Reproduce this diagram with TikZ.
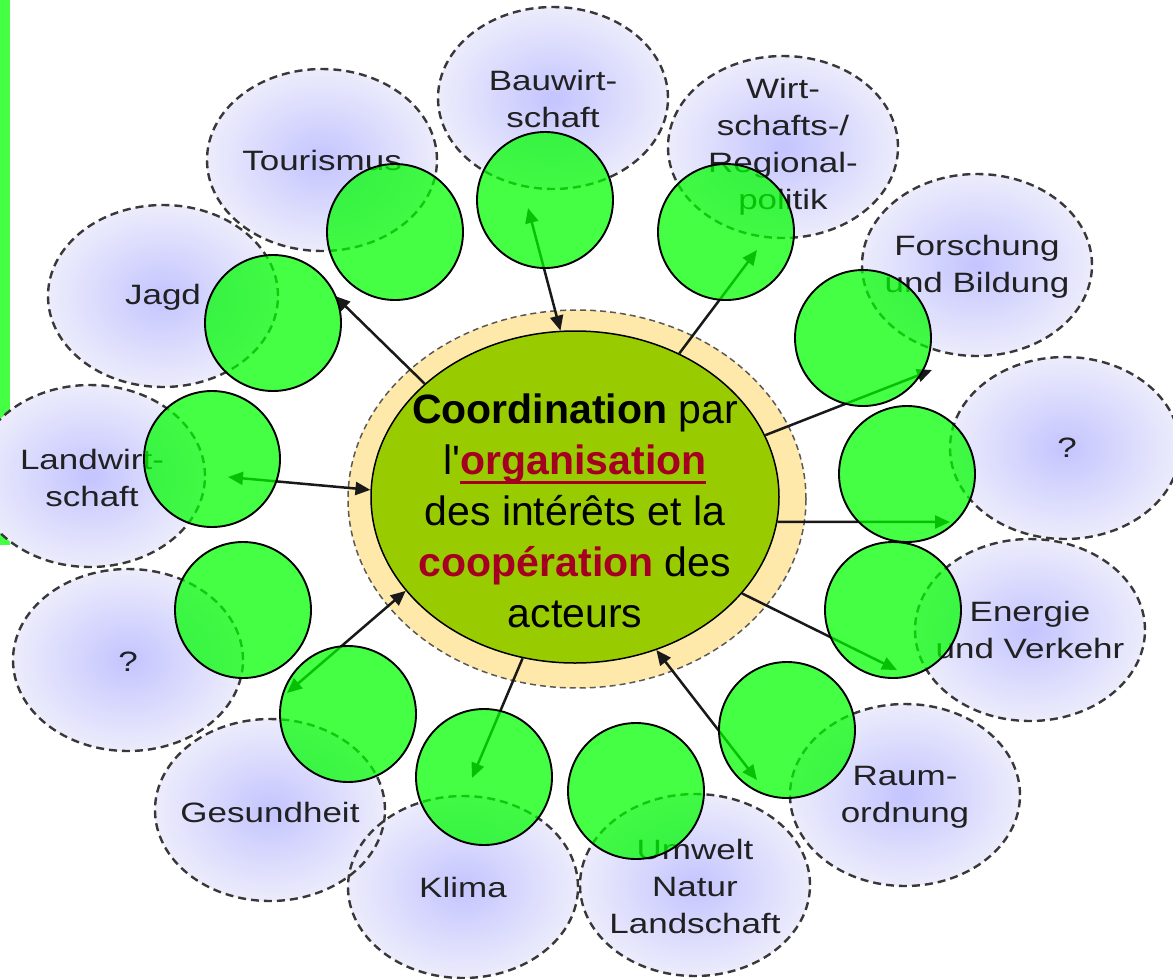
\documentclass[tikz,border=0pt]{standalone}
\usepackage{fontspec}
\setmainfont{Liberation Sans}
\newfontfamily\lblfont[FakeStretch=1.25]{Liberation Sans}
\newfontfamily\ctfont{Liberation Sans}
\usetikzlibrary{shapes.geometric,arrows.meta}
\definecolor{lavC}{RGB}{196,196,255}
\definecolor{lavE}{RGB}{236,236,252}
\definecolor{gcirc}{RGB}{0,255,0}
\definecolor{gbar}{RGB}{68,255,68}
\definecolor{cgreen}{RGB}{153,204,0}
\definecolor{ringc}{RGB}{255,233,170}
\definecolor{dred}{RGB}{165,0,33}
\newcommand\redul[1]{\setbox0\hbox{#1}\rlap{\color{dred}\rule[-9pt]{\wd0}{3pt}}\box0}
\begin{document}
\begin{tikzpicture}[x=1pt,y=-1pt,
  lblborder/.style={draw=black!78, line width=2.4pt, dash pattern=on 8pt off 5pt},
  lbl/.style={inner sep=0pt, align=center,
    font=\lblfont\fontsize{28}{37}\selectfont, text=black!87},
  gball/.style={circle, minimum size=136pt, inner sep=0pt, fill=gcirc, fill opacity=0.73,
    draw=black, line width=1.9pt},
  conn/.style={line width=2.5pt, draw=black!90},
  >={Triangle[length=15pt,width=13pt]}
]
\useasboundingbox (0,0) rectangle (1173,978);
\fill[gbar] (0,0) rectangle (10,545);
% outer ellipses: shading first, then borders
\foreach \x/\y in {322/160,553/98,783/147,977/265,1065/448,1030/630,905/795,695/885,463/887,270/810,128/660,90/476,163/296}{
  \shade[inner color=lavC, outer color=lavE] (\x,\y) ellipse [x radius=115pt, y radius=91pt];
}
\foreach \x/\y in {322/160,553/98,783/147,977/265,1065/448,1030/630,905/795,695/885,463/887,270/810,128/660,90/476,163/296}{
  \draw[lblborder] (\x,\y) ellipse [x radius=115pt, y radius=91pt];
}
\node[lbl] (tou) at (322,160) {Tourismus};
\node[lbl] (bau) at (553,99) {Bauwirt-\\schaft};
\node[lbl] (wirt) at (783,147) {Wirt-\\schafts-/\\Regional-\\politik};
\node[lbl] (for) at (977,267) {Forschung\\und Bildung};
\node[lbl] (qa) at (1067,448) {?};
\node[lbl] (ene) at (1030,630) {Energie\\und Verkehr};
\node[lbl] (raum) at (905,797) {Raum-\\ordnung};
\node[lbl] (umw) at (695,886) {Umwelt\\Natur\\Landschaft};
\node[lbl] (kli) at (463,887) {Klima};
\node[lbl] (ges) at (270,812) {Gesundheit};
\node[lbl] (qb) at (128,662) {?};
\node[lbl] (lan) at (92,478) {Landwirt-\\schaft};
\node[lbl] (jag) at (163,297) {Jagd};
% central
\node[ellipse, fill=ringc, draw=black!65, line width=1.5pt, dash pattern=on 6pt off 4pt,
  minimum width=458pt, minimum height=378pt, inner sep=0pt] (ring) at (577,499) {};
\node[ellipse, fill=cgreen, draw=black, line width=1.5pt,
  minimum width=408pt, minimum height=332pt, inner sep=0pt] (c) at (575,497) {};
\node[align=center, font=\ctfont\fontsize{41}{51}\selectfont, text=black] (ct) at (575,511)
  {\textbf{Coordination} par\\
   l'\redul{\textcolor{dred}{\textbf{organisation}}}\\
   des intérêts et la\\
   \textcolor{dred}{\textbf{coopération}} des\\
   acteurs};
% arrow ends
\coordinate (tJ) at (335,296);
\coordinate (tB) at (528,208);
\coordinate (tW) at (757,250);
\coordinate (tF) at (932,370);
\coordinate (tQ) at (950,522);
\coordinate (tE) at (897,670);
\coordinate (tR) at (757,780);
\coordinate (tK) at (472,778);
\coordinate (tG) at (287,693);
\coordinate (tL) at (228,477);
\draw[conn,->] (c.143.4) -- (tJ);
\draw[conn,<->] (c.95.2) -- (tB);
\draw[conn,->] (c.54.1) -- (tW);
\draw[conn,->] (c.18.4) -- (tF);
\draw[conn,->] (c.-7) -- (tQ);
\draw[conn,->] (c.-30.3) -- (tE);
\draw[conn,<->] (c.-62.7) -- (tR);
\draw[conn,->] (c.-108.4) -- (tK);
\draw[conn,<->] (c.209) -- (tG);
\draw[conn,<->] (c.178.6) -- (tL);
% green circles
\node[gball] (gtou) at (395,232) {};
\node[gball] (gbau) at (545,200) {};
\node[gball] (gwirt) at (726,232) {};
\node[gball] (gfor) at (863,338) {};
\node[gball] (gqa) at (907,474) {};
\node[gball] (gene) at (893,610) {};
\node[gball] (graum) at (787,730) {};
\node[gball] (gumw) at (636,791) {};
\node[gball] (gkli) at (484,777) {};
\node[gball] (gges) at (348,714) {};
\node[gball] (gqb) at (243,610) {};
\node[gball] (glan) at (212,459) {};
\node[gball] (gjag) at (273,323) {};
\end{tikzpicture}
\end{document}
